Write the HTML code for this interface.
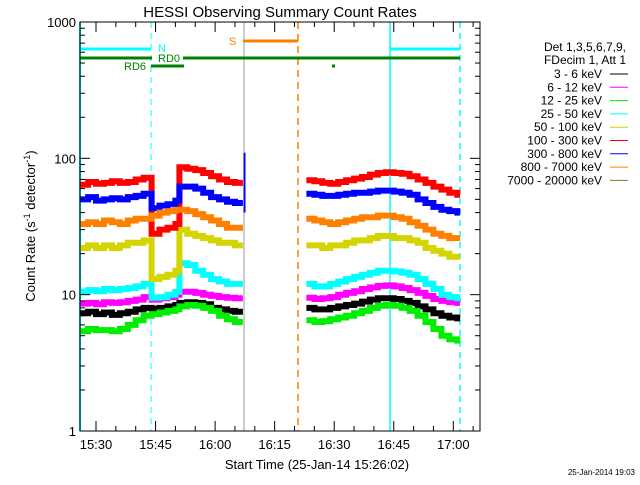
<!DOCTYPE html>
<html><head><meta charset="utf-8"><style>
body{margin:0;background:#fff;width:640px;height:480px;overflow:hidden}
svg text{font-family:"Liberation Sans",sans-serif}
</style></head><body>
<svg id="c" width="640" height="480" xmlns="http://www.w3.org/2000/svg">
<rect width="640" height="480" fill="#fff"/>
<text x="280" y="17" font-size="15" text-anchor="middle">HESSI Observing Summary Count Rates</text>
<text x="317" y="469" font-size="13" text-anchor="middle">Start Time (25-Jan-14 15:26:02)</text>
<text transform="translate(35,226) rotate(-90)" font-size="13" text-anchor="middle">Count Rate (s<tspan baseline-shift="super" font-size="9">-1</tspan> detector<tspan baseline-shift="super" font-size="9">-1</tspan>)</text>
<text x="635" y="475" font-size="8" text-anchor="end">25-Jan-2014 19:03</text>
<g id="plot"></g>
<g id="legend"></g>
</svg>
<script>
const seg1Times=[26,28,30,32,34,36,38,40,42,44,46,48,50,51,53,55,57,59,61,63,65,67];
const seg2Times=[83,85,87,89,91,93,95,97,99,101,103,105,107,109,111,113,115,117,119,121,121.7];
const seriesNames=["3 - 6 keV","6 - 12 keV","12 - 25 keV","25 - 50 keV","50 - 100 keV","100 - 300 keV","300 - 800 keV","800 - 7000 keV","7000 - 20000 keV"];
const seriesColors=["#000000","#ff00ff","#00ee00","#00ffff","#d4d400","#ff0000","#0000ff","#ff8000","#6b8e23"];
const black1=[7.3,7.5,7.2,7.4,7.1,7.3,7.5,7.8,8,7.9,8,8.2,8.4,8.7,8.8,8.7,8.5,8,7.8,7.6,7.5];
const magenta1=[8.6,8.7,8.5,8.8,8.7,8.8,9,9.2,9.6,9.2,9.4,9.6,10,10.5,10.5,10.3,10,9.8,9.6,9.5,9.4];
const green1=[5.4,5.6,5.5,5.5,5.4,5.6,6,6.5,7,7.2,7.4,7.6,7.8,8.2,8.4,8.3,8,7.6,7,6.6,6.3];
const cyan1=[10.5,10.8,10.6,11,10.8,11,11.2,11.5,12,9.5,9.6,10,10.5,17,16.5,15,14,13,12.5,12,12];
const yellow1=[22,23,22,23,22,23,24,24,25,13,13.5,14,15,30,28,27,26,25,24,24,23];
const red1=[64,67,65,66,68,66,67,70,72,28,30,31,33,86,84,82,78,74,70,67,66];
const blue1=[50,52,49,50,51,50,52,53,55,43,45,46,49,62,62,60,56,52,50,48,47];
const orange1=[33,34,33,35,34,33,35,36,36,38,40,41,42,42,41,39,37,35,33,31,31];
const black2=[8,7.8,7.8,8,8.2,8.4,8.6,8.9,9.2,9.4,9.4,9.3,9,8.7,8.2,7.8,7.3,7,6.8,6.7];
const magenta2=[9.5,9.3,9.4,9.6,10,10.3,10.6,11,11.3,11.6,11.7,11.5,11.2,10.8,10.3,9.8,9.3,9,8.8,8.7];
const green2=[6.5,6.3,6.4,6.6,6.8,7,7.3,7.6,8,8.3,8.4,8.3,8,7.6,7,6.3,5.6,5,4.7,4.6];
const cyan2=[12,11.5,11.5,12,12.5,13,13.5,14,14.5,15,15,14.8,14.5,14,13,12,11,10,9.6,9.4];
const yellow2=[23,23,22,23,23,24,25,25,26,27,27,26,26,25,24,22,21,20,19,19];
const red2=[69,68,66,65,67,69,71,73,76,78,79,78,77,74,70,66,62,59,56,54];
const blue2=[55,54,53,53,54,55,56,56,57,58,58,57,56,54,50,47,44,42,41,40];
const orange2=[36,35,34,33,34,35,36,37,37,38,38,37,36,34,32,30,28,27,26,26];
const xTickLabels=["15:30","15:45","16:00","16:15","16:30","16:45","17:00"];
const xTickMinutes=[30,45,60,75,90,105,120];
const yTickLabels=["1","10","100","1000"];
const yTickValues=[1,10,100,1000];

const X0=80,X1=480,Y0=22,Y1=431;
function x(t){return 96+(t-30)*3.97;}
function y(v){return Y1-(Y1-Y0)/3*Math.log10(v);}
const NS="http://www.w3.org/2000/svg";
const plot=document.getElementById('plot');
function mk(tag,attrs,parent){const e=document.createElementNS(NS,tag);for(const k in attrs)e.setAttribute(k,attrs[k]);(parent||plot).appendChild(e);return e;}

let l;
l=mk('line',{x1:80,y1:Y0,x2:80,y2:Y1,stroke:'#00ffff','stroke-width':2});

l=mk('line',{x1:151,y1:Y0,x2:151,y2:Y1,stroke:'#00ffff','stroke-width':1,'stroke-dasharray':'6,5'});

l=mk('line',{x1:390,y1:Y0,x2:390,y2:Y1,stroke:'#00ffff','stroke-width':1.5});

l=mk('line',{x1:460,y1:Y0,x2:460,y2:Y1,stroke:'#00ffff','stroke-width':1.5,'stroke-dasharray':'6,5'});

l=mk('line',{x1:298,y1:Y0,x2:298,y2:Y1,stroke:'#ff8000','stroke-width':1.5,'stroke-dasharray':'7,5'});


const seg1=[black1,magenta1,green1,cyan1,yellow1,red1,blue1,orange1];
const seg2=[black2,magenta2,green2,cyan2,yellow2,red2,blue2,orange2];
function stepPath(times,vals){let d='';for(let i=0;i<vals.length;i++){const yy=y(vals[i]).toFixed(1);d+=(i?'L':'M')+x(times[i]).toFixed(1)+','+yy+'L'+x(times[i+1]).toFixed(1)+','+yy;}return d;}
seg1.forEach((vals,i)=>{
  const p=mk('path',{d:stepPath(seg1Times,vals),fill:'none',stroke:seriesColors[i],'stroke-width':6});
  
  
});
seg2.forEach((vals,i)=>{
  const p=mk('path',{d:stepPath(seg2Times,vals),fill:'none',stroke:seriesColors[i],'stroke-width':6});
  
  
});
l=mk('line',{x1:244,y1:Y0,x2:244,y2:Y1,stroke:'#999','stroke-width':1});

l=mk('line',{x1:244.5,y1:y(110),x2:244.5,y2:y(40),stroke:'#0000ff','stroke-width':2});


function bar(x1,x2,yy,c,w,name){const e=mk('line',{x1:x1,y1:yy,x2:x2,y2:yy,stroke:c,'stroke-width':w});}
bar(80,151,49,'#00ffff',3,'night-bar-1');bar(390,460,49,'#00ffff',3,'night-bar-2');
bar(80,152,58,'#007f00',3,'rd0-bar-1');bar(183,460,58,'#007f00',3,'rd0-bar-2');
bar(151,184,66,'#007f00',3,'rd6-bar');bar(332,335,66,'#007f00',3,'dot');
bar(243,298,41,'#ff8000',3,'saa-bar');
function lab(t,xx,yy,c,name){const e=mk('text',{x:xx,y:yy,fill:c,'font-size':11});e.textContent=t;}
lab('S',229,45,'#ff8000','saa-label');lab('N',158,52,'#00ffff','night-label');
lab('RD0',158,62,'#007f00','rd0-label');lab('RD6',124,70,'#007f00','rd6-label');

const fr=mk('rect',{x:X0,y:Y0,width:X1-X0,height:Y1-Y0,fill:'none',stroke:'#000','stroke-width':1});

for(let d=0;d<3;d++)for(let m=1;m<10;m++){const v=Math.pow(10,d)*m;const yy=y(v);const len=m==1?10:5;
  mk('line',{x1:X0,y1:yy,x2:X0+len,y2:yy,stroke:'#000'});mk('line',{x1:X1,y1:yy,x2:X1-len,y2:yy,stroke:'#000'});}
yTickValues.forEach((v,i)=>{const t=mk('text',{x:X0-4,y:y(v)+5,'font-size':13,'text-anchor':'end'});t.textContent=yTickLabels[i];
  });
for(let m=30;m<=125;m+=5){const xx=x(m);const len=(m%15==0)?10:5;
  mk('line',{x1:xx,y1:Y1,x2:xx,y2:Y1-len,stroke:'#000'});mk('line',{x1:xx,y1:Y0,x2:xx,y2:Y0+len,stroke:'#000'});}
xTickMinutes.forEach((m,i)=>{const t=mk('text',{x:x(m),y:449,'font-size':13,'text-anchor':'middle'});t.textContent=xTickLabels[i];
  });

const lg=document.getElementById('legend');
function lt(s,xx,yy){const t=mk('text',{x:xx,y:yy,'font-size':12,'text-anchor':'end'},lg);t.textContent=s;return t;}
let h=lt('Det 1,3,5,6,7,9,',626,51);
h=lt('FDecim 1, Att 1',626,64);
seriesNames.forEach((n,i)=>{const yy=78+i*13.3;const t=lt(n,602,yy);
  
  const ln=mk('line',{x1:610,y1:yy-4,x2:628,y2:yy-4,stroke:seriesColors[i],'stroke-width':1},lg);
  });
</script>
</body></html>
